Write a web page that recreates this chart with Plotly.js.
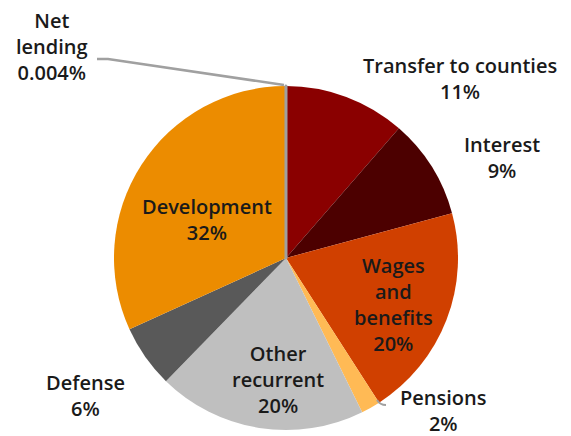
<!DOCTYPE html>
<html><head><meta charset="utf-8">
<script src="https://cdn.plot.ly/plotly-3.0.1.min.js"></script>
<style>html,body{margin:0;padding:0;background:#fff;}#chart{width:571px;height:436px;}</style>
</head><body><div id="chart"></div>
<script>
// Data
const categories = ["Transfer to counties", "Interest", "Wages and benefits", "Pensions", "Other recurrent", "Defense", "Development", "Net lending"];
const shares = [11.4, 9.4, 20.1, 1.8, 19.6, 5.9, 31.8, 0.004];
const labelTexts = ["Transfer to counties<br>11%", "Interest<br>9%", "Wages<br>and<br>benefits<br>20%", "Pensions<br>2%", "Other<br>recurrent<br>20%", "Defense<br>6%", "Development<br>32%", "Net<br>lending<br>0.004%"];
const colors = ["#8A0000", "#4C0000", "#D04000", "#FFBA55", "#BFBFBF", "#595959", "#EC8C00", "#A0A0A0"];

const W = 571, H = 436;
// label anchor positions (pixels)
const labelPos = [[460, 79], [502, 158], [393, 304], [443, 410], [278, 379], [85, 395], [207, 219], [52, 47]];

const px = (x) => x / W, py = (y) => 1 - y / H;

const trace = {
  type: "pie",
  labels: categories,
  values: shares,
  sort: false,
  direction: "clockwise",
  rotation: 0,
  textinfo: "none",
  hoverinfo: "label+percent",
  marker: {
    colors: colors,
    line: { color: colors.map((c, i) => i === 7 ? "#A0A0A0" : c), width: categories.map((c, i) => i === 7 ? 3 : 0) }
  },
  domain: { x: [114 / W, 458 / W], y: [6 / H, 350 / H] },
  showlegend: false
};

const annotations = labelTexts.map((t, i) => ({
  text: t, xref: "paper", yref: "paper",
  x: px(labelPos[i][0]), y: py(labelPos[i][1]),
  xanchor: "center", yanchor: "middle", showarrow: false, borderpad: 0,
  font: { family: "Open Sans", size: 20, weight: 600, color: "#1a1a1a" }
}));

const shapes = [
  { type: "path", xref: "paper", yref: "paper",
    path: `M ${px(97)} ${py(59)} L ${px(108)} ${py(59)} L ${px(284)} ${py(85)}`,
    line: { color: "#A0A0A0", width: 2.5 } },
  { type: "path", xref: "paper", yref: "paper",
    path: `M ${px(377)} ${py(400)} Q ${px(380)} ${py(405)} ${px(386)} ${py(405)}`,
    line: { color: "#A0A0A0", width: 2 } }
];

Plotly.newPlot("chart", [trace], {
  width: W, height: H,
  margin: { l: 0, r: 0, t: 0, b: 0 },
  paper_bgcolor: "#ffffff",
  annotations: annotations,
  shapes: shapes
}, { staticPlot: true });
</script></body></html>
